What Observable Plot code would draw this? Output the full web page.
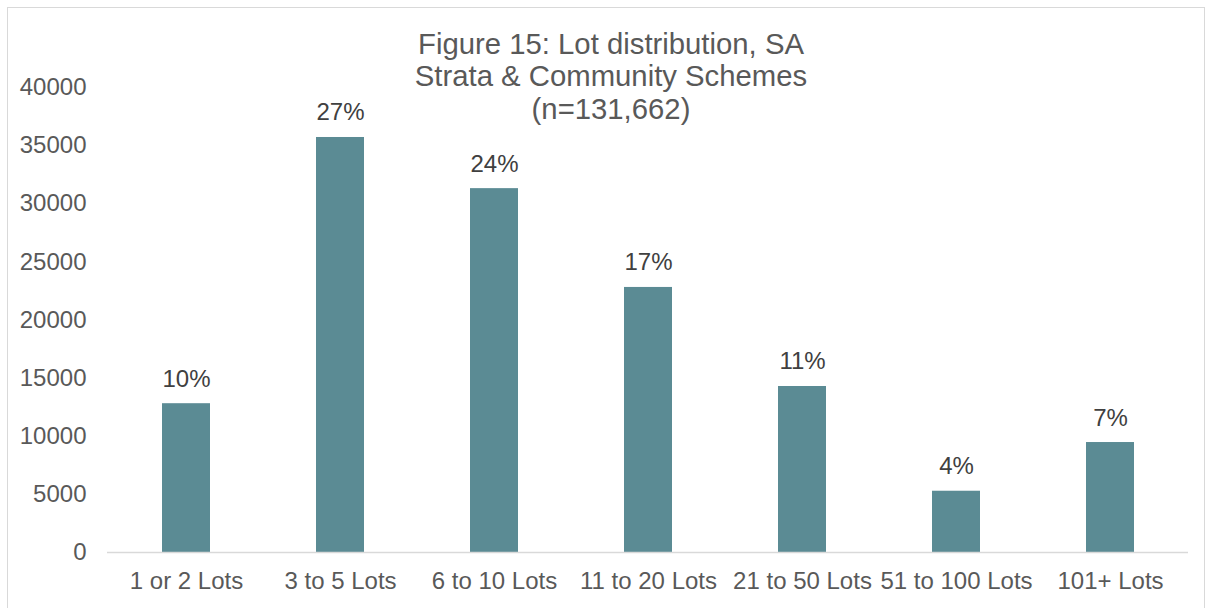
<!DOCTYPE html>
<html>
<head>
<meta charset="utf-8">
<script src="https://cdn.jsdelivr.net/npm/d3@7"></script>
<script src="https://cdn.jsdelivr.net/npm/@observablehq/plot@0.6"></script>
<style>
  html, body { margin: 0; padding: 0; background: #fff; overflow: hidden; }
  #wrap { position: relative; width: 1214px; height: 608px; font-family: "Liberation Sans", Arial, sans-serif; }
  #frame { position: absolute; left: 7px; top: 7px; width: 1198px; height: 640px; border: 1.5px solid #d9d9d9; box-sizing: border-box; }
  #title { position: absolute; left: 0; width: 1222px; top: 27.5px; text-align: center; font-size: 29.3px; line-height: 32.5px; color: #595959; }
  #chart { position: absolute; left: 0; top: 0; }
</style>
</head>
<body>
<div id="wrap">
  <div id="frame"></div>
  <div id="chart"></div>
  <div id="title">Figure 15: Lot distribution, SA<br>Strata &amp; Community Schemes<br>(n=131,662)</div>
</div>
<script>
const categories = ["1 or 2 Lots", "3 to 5 Lots", "6 to 10 Lots", "11 to 20 Lots", "21 to 50 Lots", "51 to 100 Lots", "101+ Lots"];
const counts = [12800, 35700, 31300, 22800, 14280, 5270, 9460];
const percents = ["10%", "27%", "24%", "17%", "11%", "4%", "7%"];
const yTicks = [0, 5000, 10000, 15000, 20000, 25000, 30000, 35000, 40000];

const data = categories.map((c, i) => ({category: c, count: counts[i], pct: percents[i]}));

const chart = Plot.plot({
  width: 1214,
  height: 608,
  marginLeft: 107,
  marginRight: 26,
  marginTop: 87,
  marginBottom: 56,
  style: {fontFamily: "'Liberation Sans', Arial, sans-serif", background: "transparent", overflow: "visible"},
  x: {domain: categories, paddingInner: 0.69, paddingOuter: 0.345, label: null},
  y: {domain: [0, 40000], label: null},
  marks: [
    Plot.barY(data, {x: "category", y: "count", fill: "#5b8b94"}),
    Plot.ruleY([0], {stroke: "#d9d9d9", strokeWidth: 1.5}),
    Plot.text(data, {x: "category", y: "count", text: "pct", lineAnchor: "bottom", dy: -17, fontSize: 24, fill: "#404040"}),
    Plot.axisY(yTicks, {tickSize: 0, tickPadding: 21, tickFormat: d3.format("d"), fontSize: 24, color: "#595959", label: null}),
    Plot.axisX({tickSize: 0, tickPadding: 19, fontSize: 24, color: "#595959", label: null})
  ]
});
document.getElementById("chart").appendChild(chart);
</script>
</body>
</html>
